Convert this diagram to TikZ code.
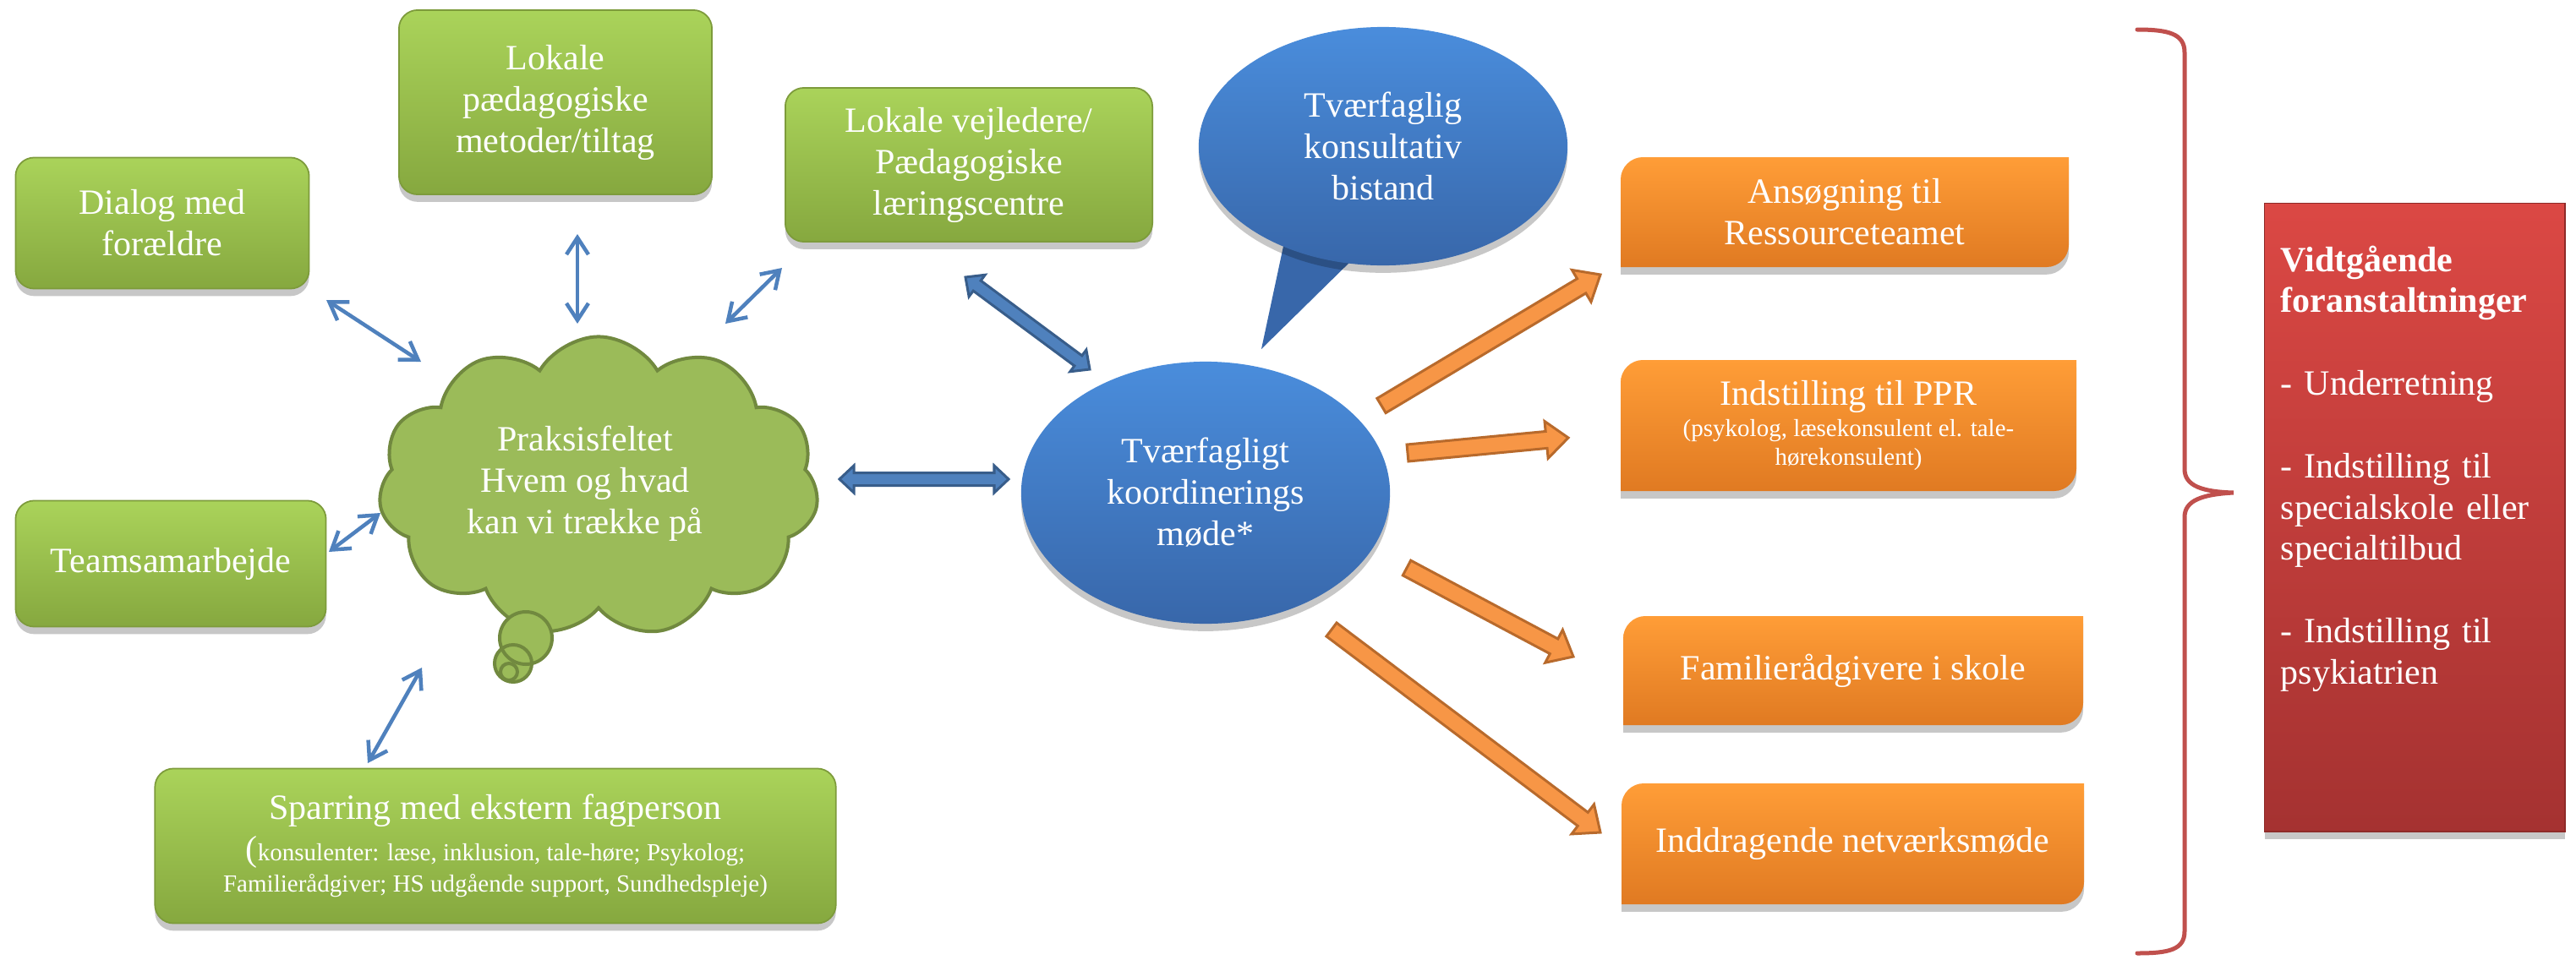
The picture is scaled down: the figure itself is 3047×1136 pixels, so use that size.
\documentclass[tikz,border=0pt]{standalone}
\usepackage{fontspec}
\setmainfont{Liberation Serif}
\usetikzlibrary{shapes.geometric,shapes.symbols,arrows.meta,calc,shadows}
\definecolor{gtop}{HTML}{AAD35A}
\definecolor{gbot}{HTML}{86A83F}
\definecolor{gline}{HTML}{7D9B3B}
\definecolor{cloudf}{HTML}{9BBB59}
\definecolor{cloudl}{HTML}{71893F}
\definecolor{tblue}{HTML}{4F81BD}
\definecolor{bfill}{HTML}{4F81BD}
\definecolor{bline}{HTML}{385D8A}
\definecolor{btop}{HTML}{4A8DDC}
\definecolor{bbot}{HTML}{3867AA}
\definecolor{otop}{HTML}{FF9D37}
\definecolor{obot}{HTML}{E07A22}
\definecolor{oafill}{HTML}{F79646}
\definecolor{oaline}{HTML}{B86A2C}
\definecolor{rtop}{HTML}{DB4844}
\definecolor{rbot}{HTML}{A53231}
\definecolor{rline}{HTML}{8E2A28}
\definecolor{brc}{HTML}{C0504D}
\newcommand\fbig{\fontsize{11.95pt}{13.94pt}\selectfont}
\newcommand\fsmall{\fontsize{8.25pt}{10.3pt}\selectfont}
\tikzset{
 myshadow/.style={drop shadow={shadow xshift=0pt,shadow yshift=-2.5pt,opacity=0.22,fill=black}},
 gbox/.style={rectangle, rounded corners=0.22cm, top color=gtop, bottom color=gbot, draw=gline, line width=0.5pt, text=white, font=\fbig, align=center, inner sep=0pt, myshadow},
 oshape/.style={top color=otop, bottom color=obot, myshadow},
 otext/.style={text=white, font=\fbig, align=center, inner sep=0pt},
 bell/.style={ellipse, top color=btop, bottom color=bbot, text=white, font=\fbig, align=center, inner sep=0pt, myshadow},
 thinarr/.style={draw=tblue, line width=0.045cm, {Straight Barb[length=0.2cm,width=0.26cm]}-{Straight Barb[length=0.2cm,width=0.26cm]}},
 barrow/.style={fill=bfill, draw=bline, line width=0.03cm},
 oarrow/.style={fill=oafill, draw=oaline, line width=0.03cm},
 redbox/.style={rectangle, top color=rtop, bottom color=rbot, draw=rline, line width=0.4pt, inner sep=0pt, myshadow},
 rbrace/.style={draw=brc, line width=0.05cm, line cap=round},
 cloudbox/.style={cloud, cloud puffs=11, cloud puff arc=120, cloud ignores aspect, minimum width=5.2cm, minimum height=3.55cm, fill=cloudf, draw=cloudl, line width=0.04cm, inner sep=0pt},
 ball/.style={fill=cloudf},
 ballline/.style={draw=cloudl, line width=0.04cm},
}
% single-headed block arrow: P Q t h L style
\newcommand\blockS[6]{%
 \path[#6] ($(#1)!#3!90:(#2)$) -- ($(#2)!#5!(#1)!#3!-90:(#1)$) -- ($(#2)!#5!(#1)!#4!-90:(#1)$) -- (#2) -- ($(#2)!#5!(#1)!#4!90:(#1)$) -- ($(#2)!#5!(#1)!#3!90:(#1)$) -- ($(#1)!#3!-90:(#2)$) -- cycle;}
% double-headed block arrow
\newcommand\blockD[6]{%
 \path[#6] (#1) -- ($(#1)!#5!(#2)!#4!90:(#2)$) -- ($(#1)!#5!(#2)!#3!90:(#2)$) -- ($(#2)!#5!(#1)!#3!-90:(#1)$) -- ($(#2)!#5!(#1)!#4!-90:(#1)$) -- (#2) -- ($(#2)!#5!(#1)!#4!90:(#1)$) -- ($(#2)!#5!(#1)!#3!90:(#1)$) -- ($(#1)!#5!(#2)!#3!-90:(#2)$) -- ($(#1)!#5!(#2)!#4!-90:(#2)$) -- cycle;}
% orange box with round diagonal corners: name x1 y1 x2 y2 text
\newcommand\orbox[6]{%
 \path[oshape] (#2,{#3+26}) .. controls (#2,{#3+12}) and ({#2+12},#3) .. ({#2+26},#3) -- (#4,#3) -- (#4,{#5-26}) .. controls (#4,{#5-12}) and ({#4-12},#5) .. ({#4-26},#5) -- (#2,#5) -- cycle;
 \node[otext] (#1) at ({(#2+#4)/2},{(#3+#5)/2}) {#6};}
\begin{document}
\begin{tikzpicture}[x=0.01cm,y=-0.01cm]
\path[use as bounding box, fill=white] (0,0) rectangle (3047,1136);

% green boxes
\node[gbox, minimum width=3.70cm, minimum height=2.18cm] (lokpaed) at (657,121) {Lokale\\pædagogiske\\metoder/tiltag};
\node[gbox, minimum width=3.47cm, minimum height=1.55cm] (dialog) at (192,264) {Dialog med\\forældre};
\node[gbox, minimum width=4.34cm, minimum height=1.82cm] (lokvej) at (1146,195) {Lokale vejledere/\\Pædagogiske\\læringscentre};
\node[gbox, minimum width=3.67cm, minimum height=1.49cm] (team) at (202,667) {Teamsamarbejde};
\node[gbox, minimum width=8.05cm, minimum height=1.83cm] (spar) at (586,1001) {Sparring med ekstern fagperson\\({\fsmall konsulenter: læse, inklusion, tale-høre; Psykolog;}\\[-0.12cm]{\fsmall Familierådgiver; HS udgående support, Sundhedspleje)}};

% cloud
\node[cloudbox] (cloudbg) at (708,576) {};
\fill[ball] (622,755) circle[radius=31];
\fill[ball] (607,785) circle[radius=22];
\fill[ball] (602,795) circle[radius=10];
\draw[ballline] (622,755) circle[radius=31];
\draw[ballline] (607,785) circle[radius=22];
\draw[ballline] (602,795) circle[radius=10];
\node[text=white, font=\fbig, align=center, inner sep=0pt] (praks) at (692,572) {Praksisfeltet\\Hvem og hvad\\kan vi trække på};

% speech bubble
\fill[bbot] (1520,282) -- (1492,413) -- (1605,302) -- cycle;
\node[bell, minimum width=4.36cm, minimum height=2.82cm] (bubble) at (1636,173) {Tværfaglig\\konsultativ\\bistand};

% central meeting
\node[bell, minimum width=4.36cm, minimum height=3.10cm] (koord) at (1426,583) {Tværfagligt\\koordinerings\\møde*};

% orange boxes
\orbox{ans}{1917}{186}{2447}{316}{Ansøgning til\\Ressourceteamet}
\orbox{ppr}{1917}{426}{2456}{581}{Indstilling til PPR\\[-0.12cm]{\fsmall (psykolog, læsekonsulent el. tale-}\\[-0.15cm]{\fsmall hørekonsulent)}}
\orbox{fam}{1920}{729}{2464}{858}{Familierådgivere i skole}
\orbox{indd}{1918}{927}{2465}{1070}{Inddragende netværksmøde}

% red box
\node[redbox, anchor=north west, minimum width=3.55cm, minimum height=7.43cm] (vid) at (2678,240) {};
\node[anchor=base west, text width=3.3cm, align=left, inner sep=0pt, text=white, font=\fontsize{11.95pt}{13.89pt}\selectfont] (vidtxt) at (2697,321) {\textbf{Vidtgående}\\\textbf{foranstaltninger}\\[13.89pt]- Underretning\\[13.89pt]- Indstilling til\\specialskole eller\\specialtilbud\\[13.89pt]- Indstilling til\\psykiatrien};

% brace
\draw[rbrace] (2528,35) .. controls (2565,35) and (2584,40) .. (2584,62) -- (2584,555) .. controls (2584,575) and (2605,582) .. (2642,583) .. controls (2605,585) and (2584,592) .. (2584,612) -- (2584,1102) .. controls (2584,1124) and (2565,1128) .. (2528,1128);

% arrow end points
\coordinate (d1) at (386,355); \coordinate (d2) at (498,428);
\coordinate (p1) at (683,277); \coordinate (p2) at (683,383);
\coordinate (v1) at (925,317); \coordinate (v2) at (858,383);
\coordinate (t1) at (389,653); \coordinate (t2) at (450,607);
\coordinate (s1) at (435,903); \coordinate (s2) at (499,790);
\coordinate (h1) at (993,567); \coordinate (h2) at (1193,567);
\coordinate (g1) at (1142,328); \coordinate (g2) at (1289,437);
\coordinate (o1a) at (1634,480); \coordinate (o1b) at (1893,325);
\coordinate (o2a) at (1665,536); \coordinate (o2b) at (1855,518);
\coordinate (o3a) at (1664,672); \coordinate (o3b) at (1861,777);
\coordinate (o4a) at (1575,745); \coordinate (o4b) at (1893,985);

% thin arrows
\draw[thinarr] (d1) -- (d2);
\draw[thinarr] (p1) -- (p2);
\draw[thinarr] (v1) -- (v2);
\draw[thinarr] (t1) -- (t2);
\draw[thinarr] (s1) -- (s2);

% block arrows
\blockD{h1}{h2}{0.075cm}{0.16cm}{0.17cm}{barrow}
\blockD{g1}{g2}{0.075cm}{0.16cm}{0.17cm}{barrow}
\blockS{o1a}{o1b}{0.1cm}{0.22cm}{0.26cm}{oarrow}
\blockS{o2a}{o2b}{0.1cm}{0.22cm}{0.26cm}{oarrow}
\blockS{o3a}{o3b}{0.1cm}{0.22cm}{0.26cm}{oarrow}
\blockS{o4a}{o4b}{0.1cm}{0.22cm}{0.26cm}{oarrow}
\end{tikzpicture}
\end{document}
